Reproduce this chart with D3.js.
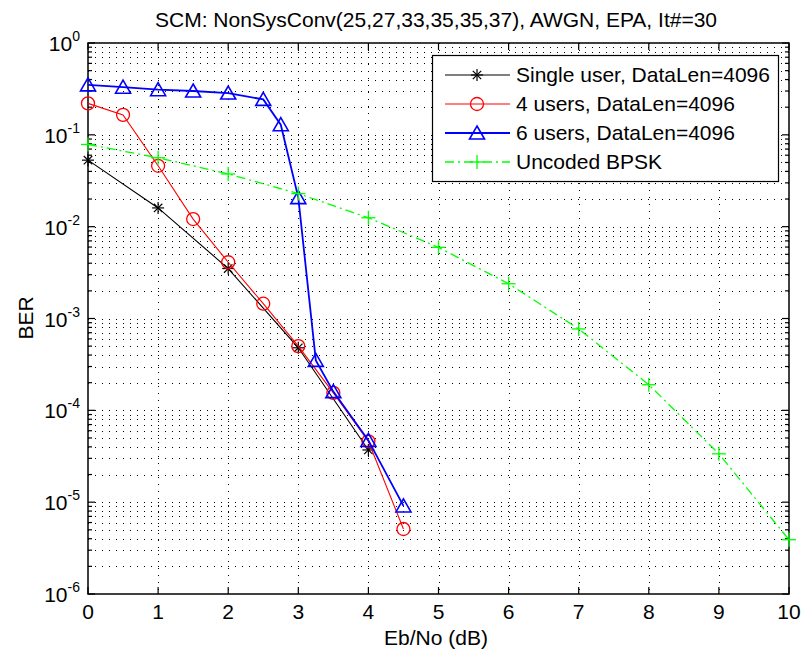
<!DOCTYPE html>
<html>
<head>
<meta charset="utf-8">
<script src="https://cdn.jsdelivr.net/npm/d3@7"></script>
<style>
  body { margin: 0; background: #fff; }
  text { font-family: Arial, "Liberation Sans", Helvetica, sans-serif; fill: #000; }
</style>
</head>
<body>
<svg id="chart"></svg>
<script>
// Eb/No values (dB) for each curve
const xSingle = [0, 1, 2, 3, 4];
const berSingle = [0.053, 0.016, 0.0035, 0.00048, 0.000037];

const x4users = [0, 0.5, 1, 1.5, 2, 2.5, 3, 3.5, 4, 4.5];
const ber4users = [0.22, 0.165, 0.046, 0.0121, 0.0041, 0.00145, 0.0005, 0.000155, 0.000046, 0.0000051];

const x6users = [0, 0.5, 1, 1.5, 2, 2.5, 2.75, 3, 3.25, 3.5, 4, 4.5];
const ber6users = [0.35, 0.33, 0.31, 0.30, 0.285, 0.243, 0.129, 0.0207, 0.00035, 0.00016, 0.000047, 0.0000091];

const xBpsk = [0, 1, 2, 3, 4, 5, 6, 7, 8, 9, 10];
const berBpsk = [0.0786, 0.0563, 0.0375, 0.0229, 0.0125, 0.00595, 0.00239, 0.00077, 0.00019, 0.0000336, 0.0000039];

const xTicks = [0, 1, 2, 3, 4, 5, 6, 7, 8, 9, 10];
const yExponents = [0, -1, -2, -3, -4, -5, -6];

const seriesNames = ["Single user, DataLen=4096", "4 users, DataLen=4096", "6 users, DataLen=4096", "Uncoded BPSK"];

const W = 801, H = 653;
const margin = { top: 43, right: 12, bottom: 59, left: 88 },
    width = W - margin.left - margin.right,
    height = H - margin.top - margin.bottom;

const svgRoot = d3.select("#chart").attr("width", W).attr("height", H);
const svg = svgRoot.append("g").attr("transform", `translate(${margin.left}, ${margin.top})`);

const x = d3.scaleLinear().domain([0, 10]).range([0, width]);
const y = d3.scaleLog().domain([1e-6, 1]).range([height, 0]);

// minor log values 2..9 per decade
const minorVals = [];
for (let e = -6; e < 0; e++) {
    for (let m = 2; m <= 9; m++) minorVals.push(m * Math.pow(10, e));
}
const majorVals = yExponents.map(e => Math.pow(10, e));

// grid
const grid = svg.append("g").attr("stroke", "#000").attr("stroke-width", 1)
    .attr("stroke-dasharray", "1,6").attr("fill", "none");
minorVals.concat(majorVals.slice(1, -1)).forEach(v => {
    grid.append("line").attr("x1", 0).attr("x2", width)
        .attr("y1", Math.round(y(v)) + 0.5).attr("y2", Math.round(y(v)) + 0.5);
});
xTicks.slice(1, -1).forEach(v => {
    grid.append("line").attr("y1", 0).attr("y2", height)
        .attr("x1", Math.round(x(v)) + 0.5).attr("x2", Math.round(x(v)) + 0.5);
});

// ticks on all four sides
const tk = svg.append("g").attr("stroke", "#000").attr("stroke-width", 1.2);
xTicks.forEach(v => {
    tk.append("line").attr("x1", x(v)).attr("x2", x(v)).attr("y1", height).attr("y2", height - 7);
    tk.append("line").attr("x1", x(v)).attr("x2", x(v)).attr("y1", 0).attr("y2", 7);
});
majorVals.forEach(v => {
    tk.append("line").attr("x1", 0).attr("x2", 7).attr("y1", y(v)).attr("y2", y(v));
    tk.append("line").attr("x1", width).attr("x2", width - 7).attr("y1", y(v)).attr("y2", y(v));
});
minorVals.forEach(v => {
    tk.append("line").attr("x1", 0).attr("x2", 4).attr("y1", y(v)).attr("y2", y(v));
    tk.append("line").attr("x1", width).attr("x2", width - 4).attr("y1", y(v)).attr("y2", y(v));
});

// box
svg.append("rect").attr("x", 0).attr("y", 0).attr("width", width).attr("height", height)
    .attr("fill", "none").attr("stroke", "#000").attr("stroke-width", 1.5);

// tick labels
svg.append("g").selectAll("text").data(xTicks).join("text")
    .attr("x", d => x(d)).attr("y", height + 25)
    .attr("text-anchor", "middle").style("font-size", "21px")
    .text(d => d);

const yl = svg.append("g").selectAll("text").data(yExponents).join("text")
    .attr("x", -8).attr("y", d => y(Math.pow(10, d)) + 8)
    .attr("text-anchor", "end").style("font-size", "21px");
yl.append("tspan").text("10");
yl.append("tspan").attr("dy", -10).style("font-size", "14px").text(d => d);

// axis labels + title
svgRoot.append("text").attr("x", 436).attr("y", 645).attr("text-anchor", "middle")
    .style("font-size", "21px").text("Eb/No (dB)");
svgRoot.append("text").attr("transform", "translate(33, 318) rotate(-90)").attr("text-anchor", "middle")
    .style("font-size", "21px").text("BER");
svgRoot.append("text").attr("x", 436).attr("y", 27).attr("text-anchor", "middle")
    .style("font-size", "21px").text("SCM: NonSysConv(25,27,33,35,35,37), AWGN, EPA, It#=30");

// markers
function drawMarker(g, type, cx, cy, color) {
    if (type === "star") {
        const r = 6;
        const p = g.append("g").attr("stroke", color).attr("stroke-width", 1.2);
        p.append("line").attr("x1", cx - r).attr("x2", cx + r).attr("y1", cy).attr("y2", cy);
        p.append("line").attr("x1", cx).attr("x2", cx).attr("y1", cy - r).attr("y2", cy + r);
        p.append("line").attr("x1", cx - r * 0.7).attr("x2", cx + r * 0.7).attr("y1", cy - r * 0.7).attr("y2", cy + r * 0.7);
        p.append("line").attr("x1", cx - r * 0.7).attr("x2", cx + r * 0.7).attr("y1", cy + r * 0.7).attr("y2", cy - r * 0.7);
    } else if (type === "circle") {
        g.append("circle").attr("cx", cx).attr("cy", cy).attr("r", 6.5)
            .attr("fill", "none").attr("stroke", color).attr("stroke-width", 1.3);
    } else if (type === "triangle") {
        g.append("path").attr("d", `M${cx},${cy - 7}L${cx + 7.5},${cy + 6}L${cx - 7.5},${cy + 6}Z`)
            .attr("fill", "none").attr("stroke", color).attr("stroke-width", 1.6);
    } else if (type === "plus") {
        const r = 7;
        const p = g.append("g").attr("stroke", color).attr("stroke-width", 1.3);
        p.append("line").attr("x1", cx - r).attr("x2", cx + r).attr("y1", cy).attr("y2", cy);
        p.append("line").attr("x1", cx).attr("x2", cx).attr("y1", cy - r).attr("y2", cy + r);
    }
}

const series = [
    { name: seriesNames[0], xs: xSingle, ys: berSingle, color: "#000000", marker: "star", width: 1.1, dash: null },
    { name: seriesNames[1], xs: x4users, ys: ber4users, color: "#ff0000", marker: "circle", width: 1.1, dash: null },
    { name: seriesNames[2], xs: x6users, ys: ber6users, color: "#0000ff", marker: "triangle", width: 1.8, dash: null },
    { name: seriesNames[3], xs: xBpsk, ys: berBpsk, color: "#00ff00", marker: "plus", width: 1.3, dash: "9,4,2,4" }
];

const line = d3.line().x(d => x(d[0])).y(d => y(d[1]));

series.forEach(s => {
    const pts = s.xs.map((v, i) => [v, s.ys[i]]);
    svg.append("path").datum(pts).attr("d", line)
        .attr("fill", "none").attr("stroke", s.color).attr("stroke-width", s.width)
        .attr("stroke-dasharray", s.dash);
    const mg = svg.append("g");
    pts.forEach(p => drawMarker(mg, s.marker, x(p[0]), y(p[1]), s.color));
});

// legend
const lg = svgRoot.append("g");
lg.append("rect").attr("x", 432.5).attr("y", 55.5).attr("width", 346).attr("height", 126)
    .attr("fill", "#fff").attr("stroke", "#000").attr("stroke-width", 1.2);
const rowY = [75, 104, 133, 162];
series.forEach((s, i) => {
    lg.append("line").attr("x1", 445).attr("x2", 510).attr("y1", rowY[i]).attr("y2", rowY[i])
        .attr("stroke", s.color).attr("stroke-width", s.width).attr("stroke-dasharray", s.dash);
    drawMarker(lg, s.marker, 477, rowY[i], s.color);
    lg.append("text").attr("x", 516).attr("y", rowY[i] + 7).style("font-size", "21px").text(s.name);
});
</script>
</body>
</html>
